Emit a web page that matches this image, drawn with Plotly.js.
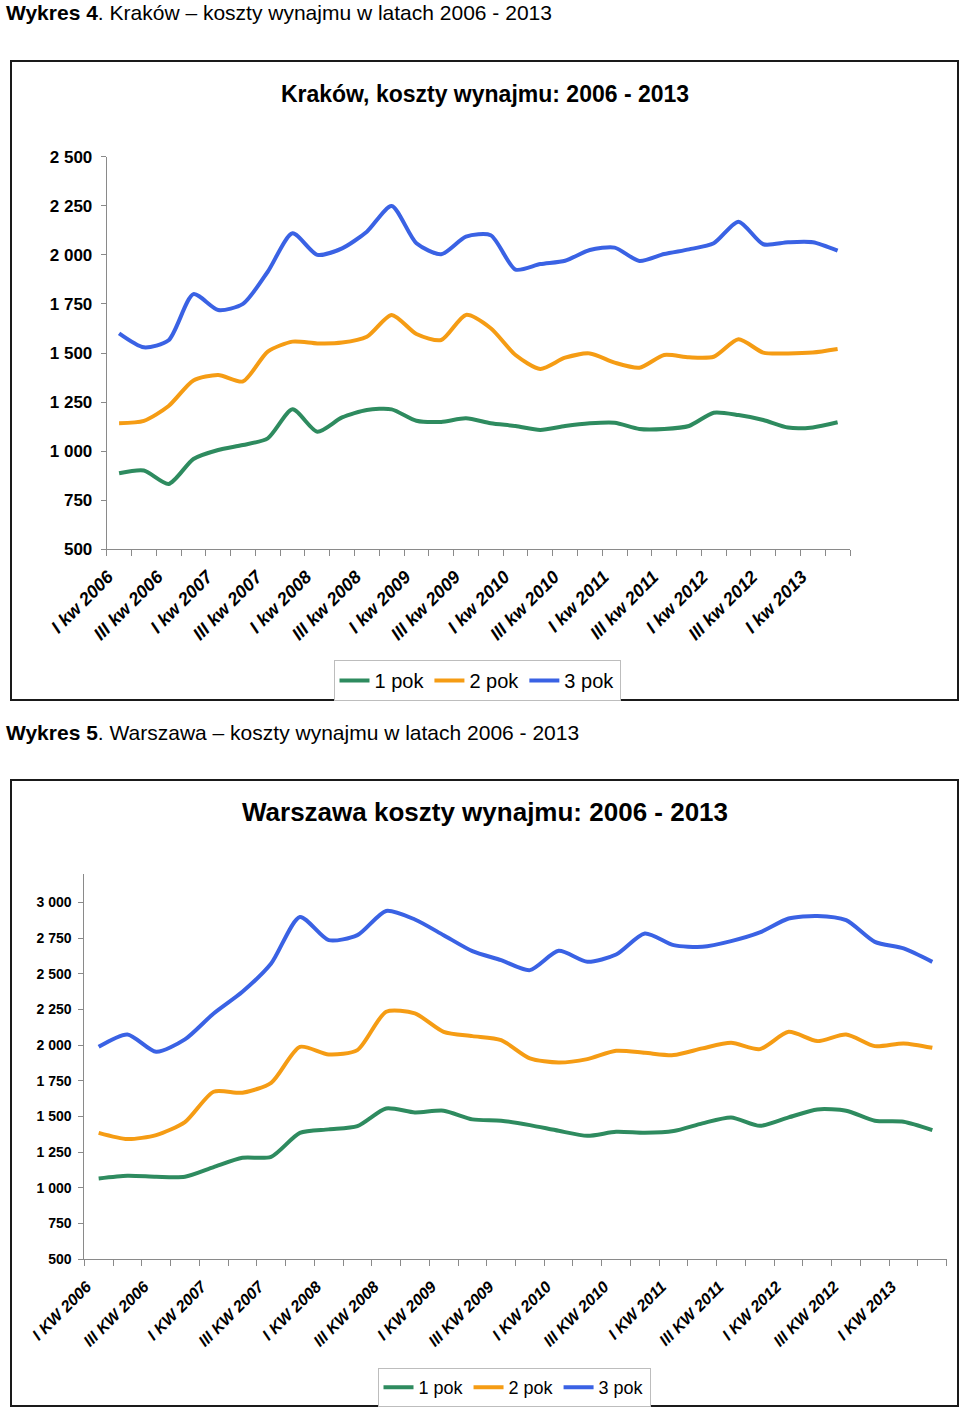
<!DOCTYPE html>
<html>
<head>
<meta charset="utf-8">
<script src="https://cdn.plot.ly/plotly-3.0.1.min.js"></script>
<style>html,body{margin:0;padding:0;background:#fff;}#chart{width:960px;height:1409px;}</style>
</head>
<body>
<div id="chart"></div>
<script>
// ---- Data ----
const seriesNames = ["1 pok", "2 pok", "3 pok"];

const krakowQuarters = [
  "I kw 2006","II kw 2006","III kw 2006","IV kw 2006",
  "I kw 2007","II kw 2007","III kw 2007","IV kw 2007",
  "I kw 2008","II kw 2008","III kw 2008","IV kw 2008",
  "I kw 2009","II kw 2009","III kw 2009","IV kw 2009",
  "I kw 2010","II kw 2010","III kw 2010","IV kw 2010",
  "I kw 2011","II kw 2011","III kw 2011","IV kw 2011",
  "I kw 2012","II kw 2012","III kw 2012","IV kw 2012",
  "I kw 2013","II kw 2013"
];
const krakow1 = [887,901,833,960,1006,1031,1065,1213,1099,1172,1210,1213,1155,1149,1167,1142,1128,1108,1128,1142,1145,1113,1113,1128,1196,1184,1159,1120,1121,1147];
const krakow2 = [1142,1154,1230,1360,1388,1355,1507,1558,1549,1553,1583,1694,1597,1566,1694,1626,1490,1419,1476,1498,1451,1425,1490,1478,1481,1570,1502,1498,1502,1520];
const krakow3 = [1600,1529,1565,1800,1719,1750,1914,2110,2000,2033,2118,2249,2059,2003,2093,2100,1925,1953,1970,2025,2037,1969,2004,2028,2059,2169,2054,2064,2064,2021];

const warsawQuarters = [
  "I KW 2006","II KW 2006","III KW 2006","IV KW 2006",
  "I KW 2007","II KW 2007","III KW 2007","IV KW 2007",
  "I KW 2008","II KW 2008","III KW 2008","IV KW 2008",
  "I KW 2009","II KW 2009","III KW 2009","IV KW 2009",
  "I KW 2010","II KW 2010","III KW 2010","IV KW 2010",
  "I KW 2011","II KW 2011","III KW 2011","IV KW 2011",
  "I KW 2012","II KW 2012","III KW 2012","IV KW 2012",
  "I KW 2013","II KW 2013"
];
const warsaw1 = [1065,1084,1077,1077,1145,1210,1217,1385,1409,1432,1556,1528,1540,1479,1470,1439,1399,1364,1392,1385,1397,1451,1493,1434,1493,1549,1540,1470,1463,1404];
const warsaw2 = [1385,1341,1369,1460,1673,1666,1736,1988,1935,1965,2234,2222,2093,2063,2035,1907,1878,1902,1960,1946,1930,1977,2016,1972,2093,2028,2075,1993,2012,1981];
const warsaw3 = [1988,2075,1953,2040,2222,2374,2572,2899,2736,2771,2941,2881,2771,2659,2596,2526,2661,2584,2635,2783,2701,2689,2729,2790,2888,2906,2876,2724,2678,2584];

// ---- Styles ----
const colors = ["#2E8B5F", "#F59C14", "#3A62E4"];
const W = 960, H = 1409;
const px = x => x / W;
const py = y => 1 - y / H;
const narrow = "Liberation Sans Narrow, Arial Narrow, Liberation Sans, Arial, sans-serif";
const sans = "Liberation Sans, Arial, sans-serif";

function mk(x, ys, i, xa, ya, lg) {
  return {
    type: "scatter", mode: "lines", x: x, y: ys, name: seriesNames[i],
    xaxis: xa, yaxis: ya, legend: lg,
    line: {color: colors[i], width: 4, shape: "spline", smoothing: 0.7},
    hoverinfo: "x+y+name"
  };
}

const data = [
  mk(krakowQuarters, krakow1, 0, "x", "y", "legend"),
  mk(krakowQuarters, krakow2, 1, "x", "y", "legend"),
  mk(krakowQuarters, krakow3, 2, "x", "y", "legend"),
  mk(warsawQuarters, warsaw1, 0, "x2", "y2", "legend2"),
  mk(warsawQuarters, warsaw2, 1, "x2", "y2", "legend2"),
  mk(warsawQuarters, warsaw3, 2, "x2", "y2", "legend2")
];

const axisGray = "#8a8a8a";

function xAxis(cats, dom, anchor, fsize, shift, standoff) {
  return {
    type: "category", domain: dom, anchor: anchor,
    categoryorder: "array", categoryarray: cats,
    range: [-0.5, cats.length - 0.5],
    tickmode: "array", tickvals: cats,
    ticktext: cats.map((c, i) => (i % 2 === 0 ? c : "")),
    tickson: "boundaries", ticks: "outside", ticklen: 6, tickcolor: axisGray, tickwidth: 1,
    tickangle: -45, ticklabelstandoff: standoff, ticklabelshift: shift,
    tickfont: {family: sans, size: fsize, color: "#000", weight: "bold", style: "italic"},
    showline: true, linecolor: axisGray, linewidth: 1,
    showgrid: false, zeroline: false, fixedrange: true
  };
}
function yAxis(rng, dom, anchor, fsize, standoff) {
  return {
    domain: dom, anchor: anchor, range: rng,
    tickmode: "linear", tick0: 500, dtick: 250, tickformat: ",d",
    ticks: "outside", ticklen: 5, tickcolor: axisGray, tickwidth: 1,
    ticklabelstandoff: standoff,
    tickfont: {family: sans, size: fsize, color: "#000", weight: "bold"},
    showline: true, linecolor: axisGray, linewidth: 1,
    showgrid: false, zeroline: false, fixedrange: true
  };
}

const layout = {
  width: W, height: H,
  margin: {l: 0, r: 0, t: 0, b: 0, pad: 0},
  paper_bgcolor: "#fff", plot_bgcolor: "rgba(0,0,0,0)",
  separators: ", ",
  showlegend: true,
  title: {
    text: "<b>Kraków, koszty wynajmu: 2006 - 2013</b>",
    x: px(485), y: py(94), xref: "paper", yref: "paper",
    xanchor: "center", yanchor: "middle",
    font: {family: sans, size: 23, color: "#000"}
  },
  xaxis: xAxis(krakowQuarters, [px(106.7), px(850)], "y", 18, -11, 9),
  yaxis: yAxis([500, 2500], [py(549.3), py(156.7)], "x", 17, 5),
  xaxis2: xAxis(warsawQuarters, [px(84.3), px(946.7)], "y2", 16, -12, 11),
  yaxis2: yAxis([500, 3200], [py(1259), py(874)], "x2", 14, 4),
  legend: {
    orientation: "h", x: px(477), y: py(660), xanchor: "center", yanchor: "top",
    xref: "paper", yref: "paper",
    bordercolor: "#bdbdbd", borderwidth: 1, bgcolor: "#fff",
    font: {family: narrow, size: 20, color: "#000"},
    itemwidth: 30, tracegroupgap: 0
  },
  legend2: {
    orientation: "h", x: px(514), y: py(1368), xanchor: "center", yanchor: "top",
    xref: "paper", yref: "paper",
    bordercolor: "#bdbdbd", borderwidth: 1, bgcolor: "#fff",
    font: {family: narrow, size: 18, color: "#000"},
    itemwidth: 30, tracegroupgap: 0
  },
  shapes: [
    {type: "rect", xref: "paper", yref: "paper", x0: px(11), x1: px(958), y0: py(700), y1: py(61),
     line: {color: "#1a1a1a", width: 2}, fillcolor: "rgba(0,0,0,0)", layer: "below"},
    {type: "rect", xref: "paper", yref: "paper", x0: px(11), x1: px(958), y0: py(1406), y1: py(780),
     line: {color: "#1a1a1a", width: 2}, fillcolor: "rgba(0,0,0,0)", layer: "below"}
  ],
  annotations: [
    {text: "<b>Wykres 4</b>. Kraków – koszty wynajmu w latach 2006 - 2013",
     xref: "paper", yref: "paper", x: px(4), y: py(12), xanchor: "left", yanchor: "middle",
     showarrow: false, font: {family: narrow, size: 21, color: "#000"}},
    {text: "<b>Wykres 5</b>. Warszawa – koszty wynajmu w latach 2006 - 2013",
     xref: "paper", yref: "paper", x: px(4), y: py(732), xanchor: "left", yanchor: "middle",
     showarrow: false, font: {family: narrow, size: 21, color: "#000"}},
    {text: "<b>Warszawa koszty wynajmu: 2006 - 2013</b>",
     xref: "paper", yref: "paper", x: px(485), y: py(812), xanchor: "center", yanchor: "middle",
     showarrow: false, font: {family: sans, size: 26, color: "#000"}}
  ]
};

Plotly.newPlot("chart", data, layout, {displayModeBar: false, staticPlot: true});
</script>
</body>
</html>
